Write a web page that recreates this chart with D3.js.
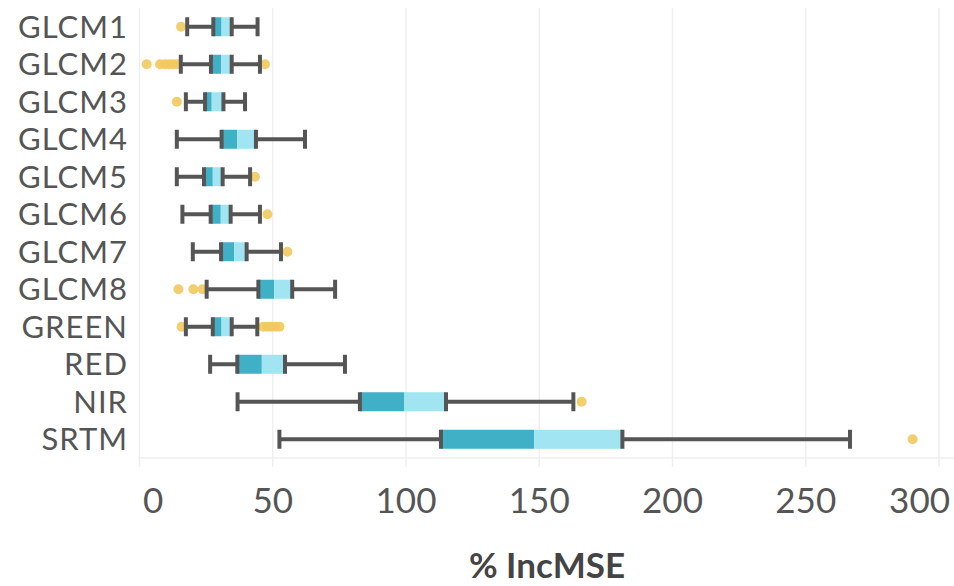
<!DOCTYPE html>
<html>
<head>
<meta charset="utf-8">
<script src="https://cdn.jsdelivr.net/npm/d3@7"></script>
<style>
  html, body { margin: 0; padding: 0; background: #fff; }
  svg { display: block; }
</style>
</head>
<body>
<svg id="chart" width="954" height="586"></svg>
<script>
const categories = ["GLCM1","GLCM2","GLCM3","GLCM4","GLCM5","GLCM6","GLCM7","GLCM8","GREEN","RED","NIR","SRTM"];
const mins    = [17.9, 15.5, 17.4, 14.0, 14.0, 16.1, 20.0, 25.2, 17.4, 26.5, 36.8, 52.5];
const q1s     = [27.7, 26.8, 24.6, 30.8, 24.2, 26.7, 30.6, 44.6, 27.5, 36.7, 82.7, 113.1];
const medians = [30.8, 30.6, 27.1, 36.7, 27.5, 30.5, 35.5, 50.5, 30.8, 45.9, 99.4, 148.1];
const q3s     = [34.6, 34.6, 31.5, 43.7, 31.2, 34.2, 40.2, 57.3, 34.6, 54.6, 115.0, 181.2];
const maxs    = [44.3, 45.2, 39.6, 62.1, 41.5, 45.2, 53.1, 73.4, 44.2, 77.1, 162.8, 266.6];
const outliers = [
  [15.6],
  [2.7, 7.7, 9.5, 11.0, 12.5, 14.0, 47.1],
  [14.0],
  [],
  [43.3],
  [48.0],
  [55.5],
  [14.6, 20.2, 23.7],
  [15.8, 46.5, 48.0, 49.5, 51.0, 52.5],
  [],
  [165.9],
  [290.1]
];
const xTicks = [0, 50, 100, 150, 200, 250, 300];
const xTitle = "% IncMSE";

const rows = categories.map((c, i) => ({
  cat: c, min: mins[i], q1: q1s[i], med: medians[i], q3: q3s[i], max: maxs[i], out: outliers[i]
}));

const svg = d3.select("#chart");
const x = d3.scaleLinear().domain([0, 300]).range([139.5, 939]);
const y = d3.scaleBand().domain(categories).range([8, 458]).padding(0);
const boxH = 19;
const FONT = "Lato, 'Open Sans', sans-serif";

// grid
const grid = svg.append("g");
grid.selectAll("line.v").data(xTicks).join("line")
  .attr("x1", d => x(d)).attr("x2", d => x(d))
  .attr("y1", 8).attr("y2", 467)
  .attr("stroke", "#efefef").attr("stroke-width", 1.5);
grid.append("line")
  .attr("x1", 138).attr("x2", 954).attr("y1", 458).attr("y2", 458)
  .attr("stroke", "#efefef").attr("stroke-width", 1.5);

// y labels
svg.append("g").selectAll("text").data(categories).join("text")
  .attr("x", 128).attr("y", d => y(d) + y.bandwidth() / 2)
  .attr("dy", "0.36em")
  .attr("text-anchor", "end")
  .attr("font-family", FONT).attr("font-size", 31)
  .attr("letter-spacing", 1)
  .attr("fill", "#555")
  .text(d => d);

// x tick labels, clamped inside plot area
const xt = svg.append("g").selectAll("text").data(xTicks).join("text")
  .attr("x", d => x(d)).attr("y", 513)
  .attr("text-anchor", "middle")
  .attr("font-family", FONT).attr("font-size", 35)
  .attr("fill", "#555")
  .text(d => d);
xt.each(function(d) {
  const w = this.getComputedTextLength();
  let cx = x(d);
  if (cx - w / 2 < 143) cx = 143 + w / 2;
  if (cx + w / 2 > 950) cx = 950 - w / 2;
  d3.select(this).attr("x", cx);
});

// x title
svg.append("text")
  .attr("x", 547).attr("y", 578)
  .attr("text-anchor", "middle")
  .attr("font-family", FONT).attr("font-size", 35).attr("font-weight", "bold")
  .attr("fill", "#444")
  .text(xTitle);

const g = svg.append("g");
const rowG = g.selectAll("g.row").data(rows).join("g")
  .attr("transform", d => `translate(0,${y(d.cat) + y.bandwidth() / 2})`);

// outliers
rowG.selectAll("circle").data(d => d.out).join("circle")
  .attr("cx", d => x(d)).attr("cy", 0).attr("r", 5)
  .attr("fill", "#f2c95f").attr("fill-opacity", 0.9);

// whiskers
rowG.append("line").attr("x1", d => x(d.min)).attr("x2", d => x(d.q1))
  .attr("y1", 0).attr("y2", 0).attr("stroke", "#555").attr("stroke-width", 4);
rowG.append("line").attr("x1", d => x(d.q3)).attr("x2", d => x(d.max))
  .attr("y1", 0).attr("y2", 0).attr("stroke", "#555").attr("stroke-width", 4);

// box halves
rowG.append("rect")
  .attr("x", d => x(d.q1)).attr("width", d => x(d.med) - x(d.q1))
  .attr("y", -boxH / 2).attr("height", boxH).attr("fill", "#40b0c6");
rowG.append("rect")
  .attr("x", d => x(d.med)).attr("width", d => x(d.q3) - x(d.med))
  .attr("y", -boxH / 2).attr("height", boxH).attr("fill", "#a0e5f1");

// caps and box edges
["min", "q1", "q3", "max"].forEach(k => {
  rowG.append("line")
    .attr("x1", d => x(d[k])).attr("x2", d => x(d[k]))
    .attr("y1", -boxH / 2).attr("y2", boxH / 2)
    .attr("stroke", "#555").attr("stroke-width", 4);
});
</script>
</body>
</html>
